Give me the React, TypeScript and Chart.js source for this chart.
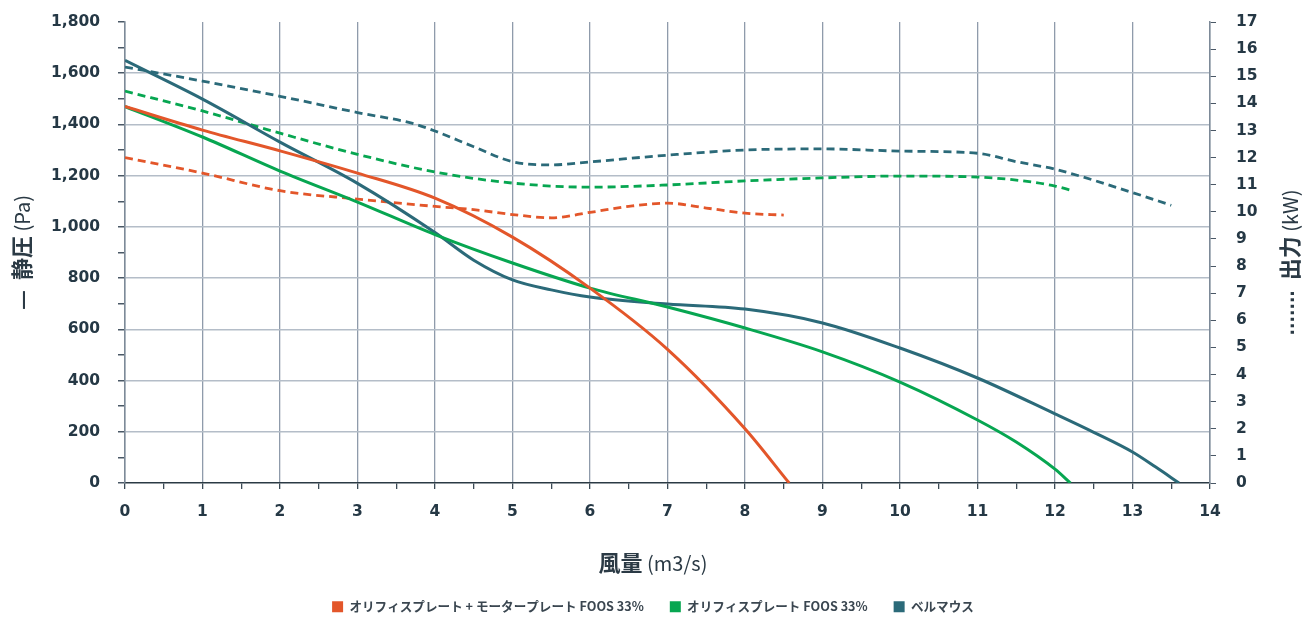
import React, { useEffect, useRef } from 'react';
import { Chart, registerables } from 'chart.js';

Chart.register(...registerables);

// ---- data ----
const seriesLabels = [
  'オリフィスプレート + モータープレート FOOS 33%',
  'オリフィスプレート FOOS 33%',
  'ベルマウス',
];

// static pressure (Pa) – solid lines
const orangePressureX = [0, 1, 2, 3, 4, 5, 6, 7, 8, 8.57];
const orangePressureY = [1470, 1378, 1297, 1210, 1112, 960, 761, 522, 212, 0];

const greenPressureX = [0, 1, 2, 3, 4, 5, 6, 7, 8, 9, 10, 11, 11.5, 12, 12.2];
const greenPressureY = [1470, 1351, 1218, 1097, 970, 859, 761, 687, 605, 512, 394, 246, 160, 54, 0];

const tealPressureX = [0, 1, 2, 3, 4, 4.5, 5, 5.5, 6, 7, 8, 9, 10, 11, 12, 12.5, 13, 13.3, 13.6];
const tealPressureY = [1650, 1499, 1331, 1170, 978, 870, 793, 754, 726, 699, 679, 625, 527, 410, 270, 198, 121, 62, 0];

// power (kW) – dashed lines
const orangePowerX = [0, 1, 2, 3, 4, 4.5, 5, 5.5, 6, 6.5, 7, 7.5, 8, 8.5];
const orangePowerY = [12.0, 11.43, 10.78, 10.47, 10.2, 10.08, 9.9, 9.78, 9.98, 10.2, 10.32, 10.14, 9.95, 9.88];

const greenPowerX = [0, 1, 2, 3, 4, 5, 6, 7, 8, 9, 10, 11, 11.5, 12, 12.2];
const greenPowerY = [14.45, 13.72, 12.9, 12.12, 11.47, 11.06, 10.91, 10.99, 11.14, 11.25, 11.32, 11.28, 11.17, 10.95, 10.8];

const tealPowerX = [0, 1, 2, 3, 3.7, 4, 4.5, 5, 5.5, 6, 7, 8, 9, 10, 11, 11.5, 12, 13, 13.5];
const tealPowerY = [15.34, 14.82, 14.26, 13.66, 13.27, 12.98, 12.4, 11.85, 11.73, 11.84, 12.09, 12.28, 12.32, 12.24, 12.16, 11.85, 11.57, 10.71, 10.24];

const colors = ['#e3562a', '#07a651', '#2b6a79'];

const xMin = 0;
const xMax = 14;
const pressureMax = 1800;
const powerMax = 17;

const zip = (xs: number[], ys: number[]) => xs.map((x, i) => ({ x, y: ys[i] }));

const TICK_COLOR = '#253845';
const TICK_FONT = { family: '"DejaVu Sans", sans-serif', weight: 'bold' as const, size: 15.5 };

type Part = { text: string; font: string; color: string };

const titlePlugin = {
  id: 'mixedTitles',
  afterDraw(chart: any) {
    const ctx: CanvasRenderingContext2D = chart.ctx;
    const area = chart.chartArea;
    const draw = (parts: Part[], x: number, y: number, rotate: boolean) => {
      ctx.save();
      ctx.translate(x, y);
      if (rotate) ctx.rotate(-Math.PI / 2);
      ctx.textBaseline = 'middle';
      ctx.textAlign = 'left';
      const widths = parts.map((p) => {
        ctx.font = p.font;
        return ctx.measureText(p.text).width;
      });
      const total = widths.reduce((a, b) => a + b, 0);
      let cx = -total / 2;
      parts.forEach((p, i) => {
        ctx.font = p.font;
        ctx.fillStyle = p.color;
        ctx.fillText(p.text, cx, 0);
        cx += widths[i];
      });
      ctx.restore();
    };
    const bold = 'bold 22px "Noto Sans CJK JP", sans-serif';
    const reg = '400 20px "Noto Sans CJK JP", sans-serif';
    const c = '#2b3a45';
    const midY = (area.top + area.bottom) / 2;
    draw(
      [
        { text: '—', font: bold, color: c },
        { text: '  静圧', font: bold, color: c },
        { text: ' (Pa)', font: reg, color: c },
      ],
      22,
      midY,
      true
    );
    draw(
      [
        { text: '.......', font: 'bold 17px "DejaVu Sans", sans-serif', color: c },
        { text: '  出力', font: bold, color: c },
        { text: ' (kW)', font: reg, color: c },
      ],
      1290,
      midY + 10,
      true
    );
    draw(
      [
        { text: '風量', font: bold, color: c },
        { text: ' (m3/s)', font: reg, color: c },
      ],
      chart.width / 2,
      563,
      false
    );
  },
};

export default function App() {
  const canvasRef = useRef<HTMLCanvasElement | null>(null);

  useEffect(() => {
    document.body.style.margin = '0';
    const canvas = canvasRef.current;
    if (!canvas) return;

    const solid = (i: number, xs: number[], ys: number[]) => ({
      label: seriesLabels[i],
      data: zip(xs, ys),
      yAxisID: 'y',
      borderColor: colors[i],
      backgroundColor: colors[i],
      borderWidth: 3,
      pointRadius: 0,
      cubicInterpolationMode: 'monotone' as const,
      fill: false,
    });
    const dashed = (i: number, xs: number[], ys: number[]) => ({
      label: seriesLabels[i] + ' 出力',
      data: zip(xs, ys),
      yAxisID: 'y2',
      borderColor: colors[i],
      backgroundColor: colors[i],
      borderWidth: 2.8,
      borderDash: [8, 5],
      pointRadius: 0,
      cubicInterpolationMode: 'monotone' as const,
      fill: false,
    });

    const chart = new Chart(canvas, {
      type: 'line',
      data: {
        datasets: [
          solid(0, orangePressureX, orangePressureY),
          solid(1, greenPressureX, greenPressureY),
          solid(2, tealPressureX, tealPressureY),
          dashed(0, orangePowerX, orangePowerY),
          dashed(1, greenPowerX, greenPowerY),
          dashed(2, tealPowerX, tealPowerY),
        ],
      },
      options: {
        animation: false,
        responsive: true,
        maintainAspectRatio: false,
        layout: { padding: { top: 22, left: 0, right: 0, bottom: -5 } },
        plugins: {
          tooltip: { enabled: false },
          legend: {
            position: 'bottom',
            labels: {
              boxWidth: 11,
              boxHeight: 11,
              padding: 26,
              color: '#3a4650',
              font: { family: '"Noto Sans CJK JP", sans-serif', weight: 'bold', size: 12.6 },
              generateLabels: (ch: any) =>
                ch.data.datasets.slice(0, 3).map((ds: any, i: number) => ({
                  text: ds.label,
                  fillStyle: ds.borderColor,
                  strokeStyle: ds.borderColor,
                  lineWidth: 0,
                  hidden: false,
                  datasetIndex: i,
                  fontColor: '#3a4650',
                })),
            },
          },
        },
        scales: {
          x: {
            type: 'linear',
            position: 'bottom',
            min: xMin,
            max: xMax,
            afterFit: (s: any) => {
              s.height = 91.4;
            },
            ticks: {
              stepSize: 0.5,
              autoSkip: false,
              maxRotation: 0,
              padding: 14,
              color: TICK_COLOR,
              font: TICK_FONT,
              callback: (v: any) => (Number.isInteger(Number(v)) ? String(v) : ''),
            },
            grid: {
              color: (ctx: any) =>
                ctx.tick && Number.isInteger(ctx.tick.value) ? '#8f9bab' : 'transparent',
              lineWidth: 1.3,
              tickColor: '#3b4a56',
              tickLength: 6,
            },
            border: { color: '#2b3a44', width: 1.6 },
          },
          y: {
            type: 'linear',
            position: 'left',
            min: 0,
            max: pressureMax,
            afterFit: (s: any) => {
              s.width = 125;
              s.paddingTop = 0;
              s.paddingBottom = 0;
            },
            ticks: {
              stepSize: 100,
              autoSkip: false,
              padding: 18,
              color: TICK_COLOR,
              font: TICK_FONT,
              callback: (v: any) =>
                Number(v) % 200 === 0 ? Number(v).toLocaleString('en-US') : '',
            },
            grid: {
              color: (ctx: any) =>
                ctx.tick && ctx.tick.value % 200 === 0 && ctx.tick.value > 0 && ctx.tick.value < pressureMax
                  ? '#b4bdc8'
                  : 'transparent',
              lineWidth: 1.5,
              tickColor: '#4a5866',
              tickLength: 7,
            },
            border: { color: '#7d8a98', width: 1.5 },
          },
          y2: {
            type: 'linear',
            position: 'right',
            min: 0,
            max: powerMax,
            afterFit: (s: any) => {
              s.width = 96;
              s.paddingTop = 0;
              s.paddingBottom = 0;
            },
            ticks: {
              stepSize: 1,
              autoSkip: false,
              padding: 20,
              color: TICK_COLOR,
              font: TICK_FONT,
            },
            grid: {
              drawOnChartArea: false,
              tickColor: '#4a5866',
              tickLength: 6,
            },
            border: { color: '#7d8a98', width: 1.5 },
          },
        },
      },
      plugins: [titlePlugin],
    });

    return () => {
      chart.destroy();
    };
  }, []);

  return (
    <div style={{ position: 'relative', width: '1306px', height: '618px', background: '#ffffff' }}>
      <canvas ref={canvasRef} />
    </div>
  );
}
